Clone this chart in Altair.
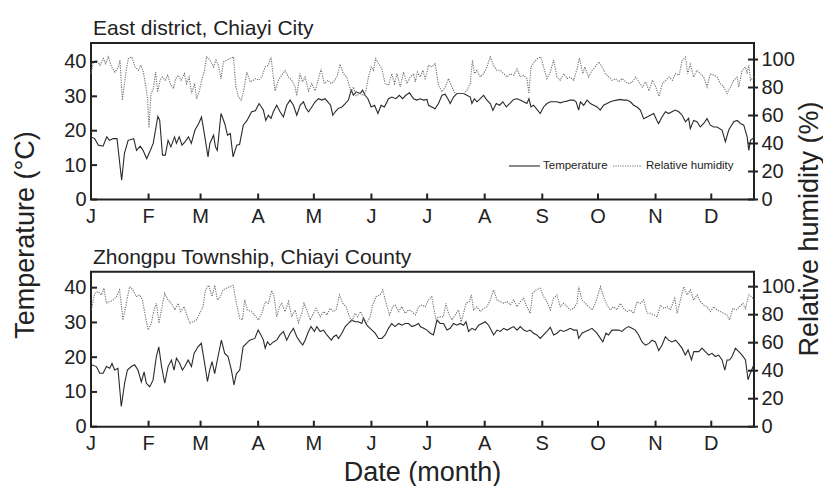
import altair as alt
import pandas as pd

FONT = "Liberation Sans"
X_MAX = 357
month_days = [0, 31, 59, 90, 120, 151, 181, 212, 243, 273, 304, 334]
month_labels = ["J", "F", "M", "A", "M", "J", "J", "A", "S", "O", "N", "D"]
temp_ticks = [0, 10, 20, 30, 40]
rh_ticks = [0, 20, 40, 60, 80, 100]
panel_titles = ["East district, Chiayi City", "Zhongpu Township, Chiayi County"]
legend_labels = ["Temperature", "Relative humidity"]
axis_titles = ["Temperature (°C)", "Relative humidity (%)", "Date (month)"]

# ---- East district, Chiayi City : temperature (°C)
t1_day = [0, 2, 4, 6.5, 8.5, 10, 12, 14, 16.5, 18, 20, 23, 24.5, 26.5, 28, 30, 32, 33.5, 36, 37,
          38.5, 40, 41.5, 43, 45, 46, 47.5, 49, 50.5, 52.5, 54, 56, 58, 59.5, 61, 63, 64, 66, 67, 68,
          70, 72, 73.5, 75, 76.5, 78.5, 80, 82, 84, 86.5, 88.5, 90.5, 92.8, 94.1, 95.5, 96.9, 98.2, 100,
          101.8, 103.6, 105.4, 107.2, 109, 110.8, 112.6, 114.4, 115.8, 117.1, 118.9, 120.7, 122.5, 124.3,
          126.1, 127.5, 129, 130.2, 131.5, 133.2, 135.1, 136.9, 138.6, 140.1, 141.3, 142.8, 145, 146.2,
          147.6, 149.1, 150.9, 152.7, 154.5, 156.2, 158, 160.2, 162, 164.2, 166, 167.8, 169.5, 171.5,
          173.7, 175.5, 177.3, 179.1, 180.9, 181.7, 183.5, 185.3, 187.1, 189, 190.7, 192.5, 193.4, 195.2,
          197, 198.8, 200.6, 202.4, 204.2, 205.1, 206.4, 207.8, 209.6, 211.4, 213.2, 215, 216.4, 218.2,
          220, 221.8, 223.6, 225.4, 227.6, 229.4, 231.1, 232.9, 234.7, 235.8, 236.9, 238.3, 239.8, 241.9,
          243.7, 245.5, 247.3, 249.1, 250.9, 252.7, 254.5, 256.3, 258.1, 259.9, 261.2, 262.6, 263.5,
          265.3, 267.1, 268.9, 270.7, 272.5, 274.2, 276, 277.8, 279.6, 281.4, 283.2, 285, 286.8, 288.6,
          290.4, 292.2, 294, 295.8, 297.6, 299.4, 301.2, 303, 304.7, 305.6, 307.5, 309.3, 311, 312.8,
          314.6, 316.5, 318.3, 320.1, 321.8, 322.7, 324.5, 326.3, 328.1, 329.9, 331.7, 333.5, 335.3,
          337.1, 339.8, 341.6, 343.4, 346.1, 347.9, 349.7, 351.5, 353.3, 354.2, 355.1, 357]
t1_val = [18.2, 17.7, 15.8, 15.5, 18.2, 17.2, 17.7, 17.7, 5.6, 13.4, 17.2, 17.7, 14.3, 15.5, 14.3, 11.9,
          14.3, 16.3, 24.2, 23.0, 12.9, 12.9, 17.2, 15.3, 18.2, 16.3, 18.2, 15.8, 16.7, 18.2, 16.3, 20.2,
          22.1, 24.0, 19.2, 12.4, 16.3, 18.7, 15.3, 14.3, 25.0, 22.1, 18.7, 19.2, 12.4, 15.8, 16.0, 21.6,
          23.0, 25.5, 25.8, 27.9, 26.0, 23.0, 24.5, 23.6, 25.5, 27.4, 25.5, 24.0, 27.4, 28.9, 27.4, 24.5,
          27.4, 28.4, 26.5, 25.5, 26.9, 28.4, 29.3, 28.9, 29.3, 28.4, 27.4, 24.5, 25.5, 26.5, 26.9, 27.9,
          28.9, 31.8, 30.3, 31.3, 30.8, 31.8, 30.3, 29.3, 26.9, 27.4, 25.0, 27.4, 26.9, 29.3, 29.8, 29.3,
          30.3, 29.3, 30.3, 31.0, 29.3, 28.9, 29.3, 28.9, 29.1, 27.4, 26.9, 26.4, 27.9, 30.3, 30.6, 28.9,
          27.9, 29.8, 30.8, 30.8, 30.8, 30.3, 29.8, 27.9, 29.3, 28.4, 29.3, 30.3, 28.9, 27.9, 25.9, 27.9,
          27.4, 28.4, 26.9, 27.9, 29.1, 29.3, 28.9, 28.4, 27.9, 29.3, 26.9, 27.4, 26.4, 25.0, 26.9, 27.9,
          28.4, 28.4, 28.4, 28.1, 28.4, 28.6, 28.9, 28.9, 28.4, 26.0, 28.4, 27.4, 28.9, 27.9, 27.4, 26.9,
          26.0, 27.4, 27.9, 28.4, 28.7, 28.9, 29.1, 28.9, 28.9, 28.4, 27.4, 26.9, 26.0, 23.5, 24.0, 24.5,
          25.0, 23.0, 22.1, 24.0, 25.5, 25.0, 25.5, 26.0, 25.5, 24.5, 22.6, 23.6, 20.6, 23.0, 22.6, 21.1,
          22.1, 23.5, 21.6, 21.1, 21.1, 20.2, 16.8, 20.2, 22.6, 23.0, 22.1, 21.6, 18.2, 14.3, 17.2, 18.0]

# ---- East district, Chiayi City : relative humidity (%)
rh1_day = [0, 1.3, 3.1, 4.8, 6.6, 7.9, 9.3, 11.1, 12.9, 14.7, 15.6, 16.9, 18.7, 20.1, 21.9, 23.7, 25.5,
           26.9, 28.2, 29.5, 30.5, 31.2, 32.3, 33.6, 34.8, 35.9, 37.2, 38.4, 39.9, 41.3, 42.7, 44.4, 45.6,
           47, 48.5, 50.3, 51.5, 52.8, 54.2, 55.7, 56.9, 58.4, 59.6, 61.1, 62.3, 64.1, 65.9, 67.3, 68.6,
           70, 71.3, 73.1, 74.9, 76.7, 78, 79.4, 80.8, 82.1, 83.9, 85.7, 87.4, 88.7, 90.2, 92, 93.8, 95.5,
           96.9, 98.2, 99.1, 100.9, 102.7, 104.5, 106.3, 108.1, 109.9, 110.8, 112.6, 113.9, 115.3, 117.1,
           118.9, 120.7, 122.5, 123.9, 125.6, 127.5, 129.3, 130.5, 132.4, 134.1, 135.9, 137.7, 139, 140.1,
           141.3, 142.8, 145, 146.8, 148, 149.4, 150.9, 152.1, 153.3, 154.8, 156.6, 158.4, 160.2, 162,
           163.4, 164.8, 166.5, 168.3, 170.1, 171.9, 173.7, 174.6, 175.8, 177.3, 178.7, 179.9, 180.8,
           181.7, 183.5, 185.3, 187.1, 189, 190.7, 192.5, 194.3, 196.1, 197.9, 200.6, 202.4, 204.2, 205.4,
           206.5, 207.8, 209.6, 211.4, 213.2, 215, 216.7, 218.5, 220.4, 222.2, 224, 225.8, 227.6, 229.4,
           231.1, 232.9, 234.7, 235.8, 236.9, 238.7, 240.5, 242.2, 243.7, 245.5, 247.3, 249.1, 250.9,
           252.7, 254.5, 256.3, 258.1, 259.9, 261.7, 263, 264.8, 265.9, 267.9, 269.8, 271.6, 273.4, 275.2,
           277, 278.9, 280.6, 282.4, 284.2, 286, 287.9, 289.7, 291.5, 293.3, 295.1, 296.9, 298.7, 300.5,
           302.3, 304.1, 305.9, 307.7, 309.5, 311.3, 313.1, 314.8, 316.7, 318.3, 320.1, 321.3, 322.7,
           324.5, 326.3, 328.1, 329.9, 331.7, 333.5, 335.3, 337.1, 338.9, 340.7, 342.5, 344.3, 346.1,
           347.9, 348.8, 350.6, 352.4, 353.3, 354.2, 355.1, 357]
rh1_val = [89.9, 98.3, 99.5, 95.9, 100.7, 97.1, 101.9, 94.7, 91.0, 94.7, 99.5, 70.9, 89.9, 100.7, 101.9,
           94.7, 92.3, 95.9, 91.0, 80.9, 71.0, 51.3, 75.7, 79.2, 91.0, 76.8, 85.2, 87.5, 85.2, 88.8, 82.8,
           79.2, 86.4, 88.8, 85.2, 89.9, 82.8, 87.5, 75.7, 82.8, 71.9, 78.0, 85.2, 92.1, 101.9, 99.5, 94.7,
           99.5, 95.9, 86.4, 98.3, 99.5, 100.7, 101.9, 80.4, 73.3, 70.9, 76.8, 91.0, 84.0, 85.2, 86.4,
           85.2, 87.5, 94.7, 95.9, 101.9, 87.5, 77.6, 85.2, 88.8, 92.1, 87.5, 85.2, 80.4, 74.2, 90.0, 84.0,
           87.5, 77.6, 82.8, 77.6, 86.4, 93.3, 82.8, 85.2, 82.8, 84.0, 87.5, 96.6, 89.9, 87.5, 81.6, 76.8,
           80.4, 74.2, 75.7, 74.2, 77.6, 87.5, 94.7, 92.3, 100.7, 97.1, 93.5, 82.8, 81.6, 89.9, 82.8, 89.9,
           80.4, 91.0, 82.8, 87.5, 89.9, 84.0, 91.0, 87.5, 92.3, 86.4, 89.9, 96.0, 94.7, 97.0, 81.6, 76.9,
           80.4, 86.4, 80.4, 75.7, 75.7, 75.7, 78.0, 82.8, 99.5, 89.9, 92.3, 87.5, 89.9, 94.7, 101.9, 95.9,
           92.3, 92.3, 89.9, 87.5, 89.9, 88.8, 93.3, 87.5, 88.8, 86.4, 75.7, 94.7, 98.3, 100.7, 101.9,
           94.7, 86.4, 91.0, 99.5, 87.5, 85.2, 89.9, 86.4, 87.5, 85.2, 93.3, 101.0, 89.9, 94.7, 87.5, 92.3,
           94.7, 98.3, 94.7, 89.9, 87.5, 85.2, 86.4, 84.0, 86.4, 84.0, 82.8, 84.0, 87.5, 84.0, 80.4, 84.0,
           77.6, 85.2, 80.4, 73.6, 82.8, 85.2, 87.5, 85.2, 89.9, 88.8, 99.5, 101.9, 89.9, 96.6, 87.5, 92.3,
           89.9, 87.5, 80.4, 89.9, 88.8, 87.5, 82.8, 80.4, 75.7, 80.4, 85.2, 87.5, 80.4, 92.3, 94.7, 89.9,
           96.0, 85.2, 88.0]

# ---- Zhongpu Township, Chiayi County : temperature (°C)
t2_day = [0.2, 2.9, 4.7, 6.5, 8.3, 10.1, 11.3, 12.7, 14.5, 16.3, 18.1, 19.6, 21.7, 23.5, 25.3, 27.1,
          28.6, 29.8, 31.6, 33.4, 35.2, 36.5, 38, 39.7, 41.5, 43.3, 44.7, 46, 47.8, 49.2, 50.5, 52.3,
          54.1, 55.5, 57.6, 59.4, 61.2, 62.7, 63.9, 65.2, 66.6, 68.4, 70.2, 72, 73.8, 75.6, 77, 78.3,
          80.1, 81.9, 83.7, 85.5, 88.2, 90, 91, 92.8, 93.8, 95, 96.4, 98.2, 100, 101.8, 103.6, 105.4,
          107.2, 109, 110.8, 112.6, 114, 115.3, 117.1, 118.5, 120.3, 121.6, 123.4, 125.2, 127, 129.4,
          130.6, 132.1, 133.3, 135.1, 136.9, 138.6, 140.4, 142.2, 144, 145.8, 146.7, 148.5, 150.3, 153,
          154.8, 156.6, 158.4, 160.2, 161.9, 163.7, 165.6, 167.4, 169.2, 171, 172.8, 174.6, 176.4, 177.3,
          179.1, 180.9, 182.7, 184.4, 186.3, 188, 189.8, 191.7, 193.4, 195.2, 197, 198.8, 200.6, 201.9,
          203.3, 205.1, 206.9, 208.7, 210.5, 212.3, 214.1, 215.9, 216.8, 218.6, 220.4, 222.2, 224, 225.8,
          227.6, 229.4, 231.2, 233, 234.7, 236.5, 238.3, 240.1, 241.9, 243.7, 245.5, 247.3, 249.1, 250.9,
          252.7, 254.5, 256.3, 258.1, 259.9, 261.7, 262.6, 264.4, 266.2, 268, 269.8, 272.4, 274.3, 275.6,
          277.3, 278.7, 280.5, 282.3, 284.1, 285.9, 287.7, 289.5, 291.3, 293.1, 294.9, 296.7, 298.5,
          300.3, 302.1, 303.9, 305.7, 307.5, 309.3, 311, 312.8, 314.7, 316.4, 318.2, 320, 321.5, 323.3,
          324.6, 327.3, 329, 330.8, 332.6, 334.4, 336.2, 338, 339.8, 341.3, 342.5, 343.8, 345.2, 347,
          348.8, 350.6, 352.4, 353.8, 355, 357]
t2_val = [17.8, 17.3, 15.4, 15.4, 17.3, 16.8, 18.2, 16.3, 16.8, 5.8, 12.5, 16.3, 17.3, 17.8, 16.3, 12.9,
          15.8, 12.5, 11.5, 13.4, 20.2, 23.0, 17.3, 12.5, 17.3, 19.2, 16.3, 19.7, 18.2, 16.3, 17.3, 19.2,
          17.3, 21.1, 23.0, 24.0, 18.2, 13.0, 16.3, 18.7, 15.3, 20.2, 24.9, 21.1, 20.2, 16.3, 12.0, 15.3,
          16.3, 23.0, 24.0, 24.9, 25.4, 27.8, 26.9, 25.0, 22.6, 24.4, 23.5, 24.4, 24.9, 26.4, 27.4, 24.9,
          26.9, 28.3, 25.9, 24.4, 23.5, 24.9, 27.4, 28.8, 27.4, 28.8, 27.4, 27.8, 26.4, 24.9, 25.9, 26.4,
          25.4, 26.9, 28.8, 29.7, 30.7, 30.2, 30.2, 29.7, 31.2, 29.2, 28.3, 26.9, 25.4, 25.4, 26.4, 28.3,
          29.7, 28.8, 29.7, 29.2, 29.7, 29.7, 28.8, 29.2, 29.7, 28.8, 28.3, 27.8, 26.9, 26.4, 30.7, 29.7,
          29.7, 27.8, 28.3, 29.7, 29.2, 29.7, 29.2, 30.2, 27.4, 28.3, 27.8, 29.2, 29.7, 30.2, 29.2, 27.4,
          26.4, 27.8, 27.4, 28.3, 27.8, 28.3, 28.8, 27.8, 28.8, 27.8, 27.4, 27.8, 26.9, 26.4, 25.4, 26.4,
          27.4, 28.6, 26.4, 26.9, 27.8, 27.4, 27.8, 28.3, 27.8, 27.8, 25.4, 26.9, 27.4, 27.8, 28.3, 26.9,
          25.4, 24.4, 26.9, 26.4, 27.8, 27.8, 27.8, 27.4, 28.3, 28.8, 28.3, 27.8, 26.4, 24.4, 23.5, 23.9,
          24.9, 24.4, 21.9, 23.5, 25.9, 24.9, 24.4, 24.9, 23.9, 22.6, 20.6, 22.1, 19.2, 21.6, 21.6, 22.6,
          21.6, 20.6, 21.1, 20.2, 20.6, 19.2, 16.3, 19.2, 19.2, 20.2, 22.6, 21.6, 20.6, 19.2, 13.5, 15.4,
          17.9]

# ---- Zhongpu Township, Chiayi County : relative humidity (%)
rh2_day = [0.2, 2, 3.8, 5.6, 7, 8.3, 10.1, 11.9, 13.7, 15.4, 17.2, 19, 20.8, 22.6, 24.4, 26.2, 27.7, 29,
           30.7, 32.5, 33.9, 35.2, 36.6, 37.9, 39.7, 41.5, 43.3, 45.1, 46.9, 48.3, 50.1, 51.9, 53.2, 55,
           56.8, 58.6, 60.3, 61.6, 63.4, 65.2, 66.6, 68.1, 69.3, 71.1, 72.9, 74.7, 76.5, 78.3, 80.1, 81.5,
           82.8, 84.2, 86.4, 88.5, 90.2, 92, 93.8, 95.5, 97.3, 98.6, 100, 101.5, 102.7, 104.5, 106.3, 108.1,
           109.9, 111.7, 113.5, 114.7, 116.2, 118, 119.8, 121.2, 123.4, 125.2, 127, 128.8, 130.6, 132,
           133.8, 135.6, 137.4, 139.1, 140.4, 142.2, 143.5, 145.2, 146.7, 148.5, 150.3, 151.7, 153.5,
           155.7, 157.1, 158.9, 160.7, 162.5, 163.7, 165.6, 167.4, 169.2, 171, 172.8, 174.6, 176.4, 178.2,
           180, 181.7, 183.5, 185.6, 188, 189.8, 191.1, 192.5, 194.3, 196.1, 197.9, 199.3, 200.6, 201.9,
           203.7, 204.8, 206, 207.8, 209.6, 211.4, 213.2, 215, 216.8, 218.6, 220.4, 222.2, 224, 225.8,
           227.6, 229.4, 231.2, 232.9, 234.7, 236.5, 237.8, 239.6, 241.9, 243.7, 245.5, 247.3, 249.1,
           250.9, 252.7, 254.5, 256.3, 258.1, 259.9, 261.7, 262.6, 264.4, 266.2, 268, 269.8, 271.6, 274.3,
           276, 277.8, 279.6, 281.4, 283.2, 285, 286.8, 288.6, 290.4, 292.2, 294, 295.8, 297.6, 299.4,
           301.2, 303, 304.8, 306.6, 308.4, 310.2, 312, 314.3, 315.6, 317.4, 319.2, 321, 322.7, 324.5,
           326.3, 328.1, 329.9, 331.7, 333.5, 335.3, 337.1, 338.9, 340.7, 342.5, 343.8, 345.6, 347.4,
           349.2, 351, 352.4, 354.2, 355.6, 357]
rh2_val = [83.4, 95.3, 96.5, 94.1, 98.9, 88.1, 89.3, 90.5, 92.9, 97.7, 76.2, 88.1, 100.0, 97.7, 92.9,
           94.1, 90.5, 81.0, 69.1, 73.9, 83.4, 88.1, 73.9, 83.4, 95.3, 90.5, 88.1, 83.4, 88.1, 82.2, 85.7,
           78.6, 73.9, 75.0, 76.2, 81.0, 85.7, 97.7, 101.0, 92.9, 101.0, 90.5, 92.0, 97.7, 98.9, 100.0,
           101.0, 88.1, 77.4, 76.2, 90.5, 83.4, 82.2, 79.0, 76.2, 81.0, 89.3, 88.1, 97.3, 92.9, 78.6, 85.7,
           88.1, 82.2, 89.3, 78.6, 83.4, 74.4, 81.0, 88.1, 83.4, 76.2, 81.0, 84.5, 78.6, 82.2, 79.8, 84.5,
           82.2, 83.4, 94.1, 88.1, 85.7, 78.6, 74.9, 81.0, 78.6, 82.2, 77.4, 73.9, 78.6, 86.9, 92.9, 94.1,
           97.7, 88.1, 79.8, 85.7, 86.9, 82.2, 85.7, 81.0, 83.4, 82.2, 79.8, 85.7, 86.9, 85.7, 90.5, 92.9,
           77.4, 78.6, 78.6, 88.1, 81.0, 76.2, 79.8, 83.4, 75.0, 81.0, 88.1, 89.3, 94.1, 83.4, 85.7, 82.2,
           84.5, 85.7, 90.5, 97.7, 90.5, 89.3, 88.1, 89.3, 86.9, 90.5, 85.7, 89.3, 91.7, 85.7, 81.0, 95.3,
           97.7, 98.9, 92.9, 89.3, 83.4, 91.7, 94.1, 85.7, 88.1, 85.7, 83.4, 84.5, 88.1, 100.0, 90.5, 88.1,
           85.7, 83.4, 88.1, 100.0, 92.9, 86.9, 83.4, 85.7, 83.4, 88.1, 84.5, 82.2, 83.4, 81.0, 89.3, 88.1,
           90.5, 81.0, 81.0, 79.8, 78.6, 86.9, 84.5, 85.7, 83.4, 91.7, 81.0, 90.5, 100.0, 94.1, 97.7, 90.5,
           94.1, 89.3, 86.9, 85.7, 82.2, 85.7, 83.4, 82.2, 81.0, 79.8, 76.2, 84.5, 83.4, 85.7, 88.1, 84.5,
           94.1, 92.9, 90.5]

# ---------------- layout (plot-area pixels) ----------------
W = 663
HH = 384
PANELS = [
    dict(top=0.0, bot=156.5, tdom=[0, 45.5], rdom=[0, 111.8]),
    dict(top=228.7, bot=383.7, tdom=[0, 44.6], rdom=[0, 110.7]),
]
INK = "#222222"
T_COL = "#2a2a2a"
R_COL = "#707070"
TITLE_SIZE = 27
dummy = pd.DataFrame({"k": [0]})


def xs():
    return alt.Scale(domain=[0, X_MAX], nice=False, zero=False)


def ys(dom, p):
    return alt.Scale(domain=dom, range=[p["bot"], p["top"]], nice=False, zero=False)


def yaxis(orient, values, pad):
    return alt.Axis(orient=orient, values=values, ticks=False, tickSize=0, domain=False, grid=False,
                    labelFontSize=20, labelFont=FONT, labelColor=INK, labelPadding=pad, title="")


def fixed_text(text, x, y, size, align="left", baseline="alphabetic", angle=0):
    kw = dict(text=text, font=FONT, fontSize=size, color=INK, align=align, baseline=baseline)
    if angle:
        kw["angle"] = angle
    return alt.Chart(dummy).mark_text(**kw).encode(x=alt.value(x), y=alt.value(y))


layers = []
series = [(t1_day, t1_val, rh1_day, rh1_val), (t2_day, t2_val, rh2_day, rh2_val)]
for i, (p, (td, tv, rd, rv)) in enumerate(zip(PANELS, series)):
    tdf = pd.DataFrame({"day": td, "temp": tv})
    rdf = pd.DataFrame({"day": rd, "rh": rv})
    # frame
    layers.append(alt.Chart(dummy).mark_rect(fillOpacity=0, stroke=INK, strokeWidth=2).encode(
        x=alt.value(0), x2=alt.value(W), y=alt.value(p["top"]), y2=alt.value(p["bot"])))
    # lines
    layers.append(alt.Chart(tdf).mark_line(color=T_COL, strokeWidth=1.1).encode(
        x=alt.X("day:Q", scale=xs(), axis=None),
        y=alt.Y("temp:Q", scale=ys(p["tdom"], p), axis=yaxis("left", temp_ticks, 5))))
    layers.append(alt.Chart(rdf).mark_line(color=R_COL, strokeWidth=1.1, strokeDash=[1.2, 1.2]).encode(
        x=alt.X("day:Q", scale=xs(), axis=None),
        y=alt.Y("rh:Q", scale=ys(p["rdom"], p), axis=yaxis("right", rh_ticks, 7))))
    # ticks (left and bottom inward, right crossing the frame)
    layers.append(alt.Chart(pd.DataFrame({"tt": temp_ticks})).mark_rule(color=INK, strokeWidth=2).encode(
        y=alt.Y("tt:Q", scale=ys(p["tdom"], p), axis=None), x=alt.value(0), x2=alt.value(6)))
    layers.append(alt.Chart(pd.DataFrame({"rt": rh_ticks})).mark_rule(color=INK, strokeWidth=2).encode(
        y=alt.Y("rt:Q", scale=ys(p["rdom"], p), axis=None), x=alt.value(W - 6), x2=alt.value(W + 4)))
    layers.append(alt.Chart(pd.DataFrame({"day": month_days})).mark_rule(color=INK, strokeWidth=2).encode(
        x=alt.X("day:Q", scale=xs(), axis=None), y=alt.value(p["bot"]), y2=alt.value(p["bot"] - 6)))
    # month labels
    layers.append(alt.Chart(pd.DataFrame({"day": month_days, "lab": month_labels})).mark_text(
        font=FONT, fontSize=20, color=INK, align="center", baseline="alphabetic").encode(
        x=alt.X("day:Q", scale=xs(), axis=None), y=alt.value(p["bot"] + 23), text="lab:N"))
    # panel title
    layers.append(fixed_text(panel_titles[i], 2, p["top"] - 8, 21))

# legend (top panel)
ly = 123
layers += [
    alt.Chart(dummy).mark_rule(color=T_COL, strokeWidth=1.1).encode(
        x=alt.value(418), x2=alt.value(449), y=alt.value(ly)),
    fixed_text(legend_labels[0], 452, ly, 11.5, baseline="middle"),
    alt.Chart(dummy).mark_rule(color=R_COL, strokeWidth=1.1, strokeDash=[1.2, 1.2]).encode(
        x=alt.value(522), x2=alt.value(551), y=alt.value(ly)),
    fixed_text(legend_labels[1], 555, ly, 11.5, baseline="middle"),
]
# axis titles
layers += [
    fixed_text(axis_titles[0], -65, 192, TITLE_SIZE, align="center", baseline="middle", angle=270),
    fixed_text(axis_titles[1], W + 56, 186, TITLE_SIZE, align="center", baseline="middle", angle=270),
    fixed_text(axis_titles[2], W / 2, 438, TITLE_SIZE, align="center", baseline="alphabetic"),
]

chart = alt.layer(*layers).resolve_scale(y="independent").properties(
    width=W, height=HH, padding={"left": 4, "top": 10, "right": 0, "bottom": 0}
).configure(font=FONT, background="white").configure_view(strokeWidth=0)

chart.save("out.html", embed_options={"renderer": "svg", "actions": False})
